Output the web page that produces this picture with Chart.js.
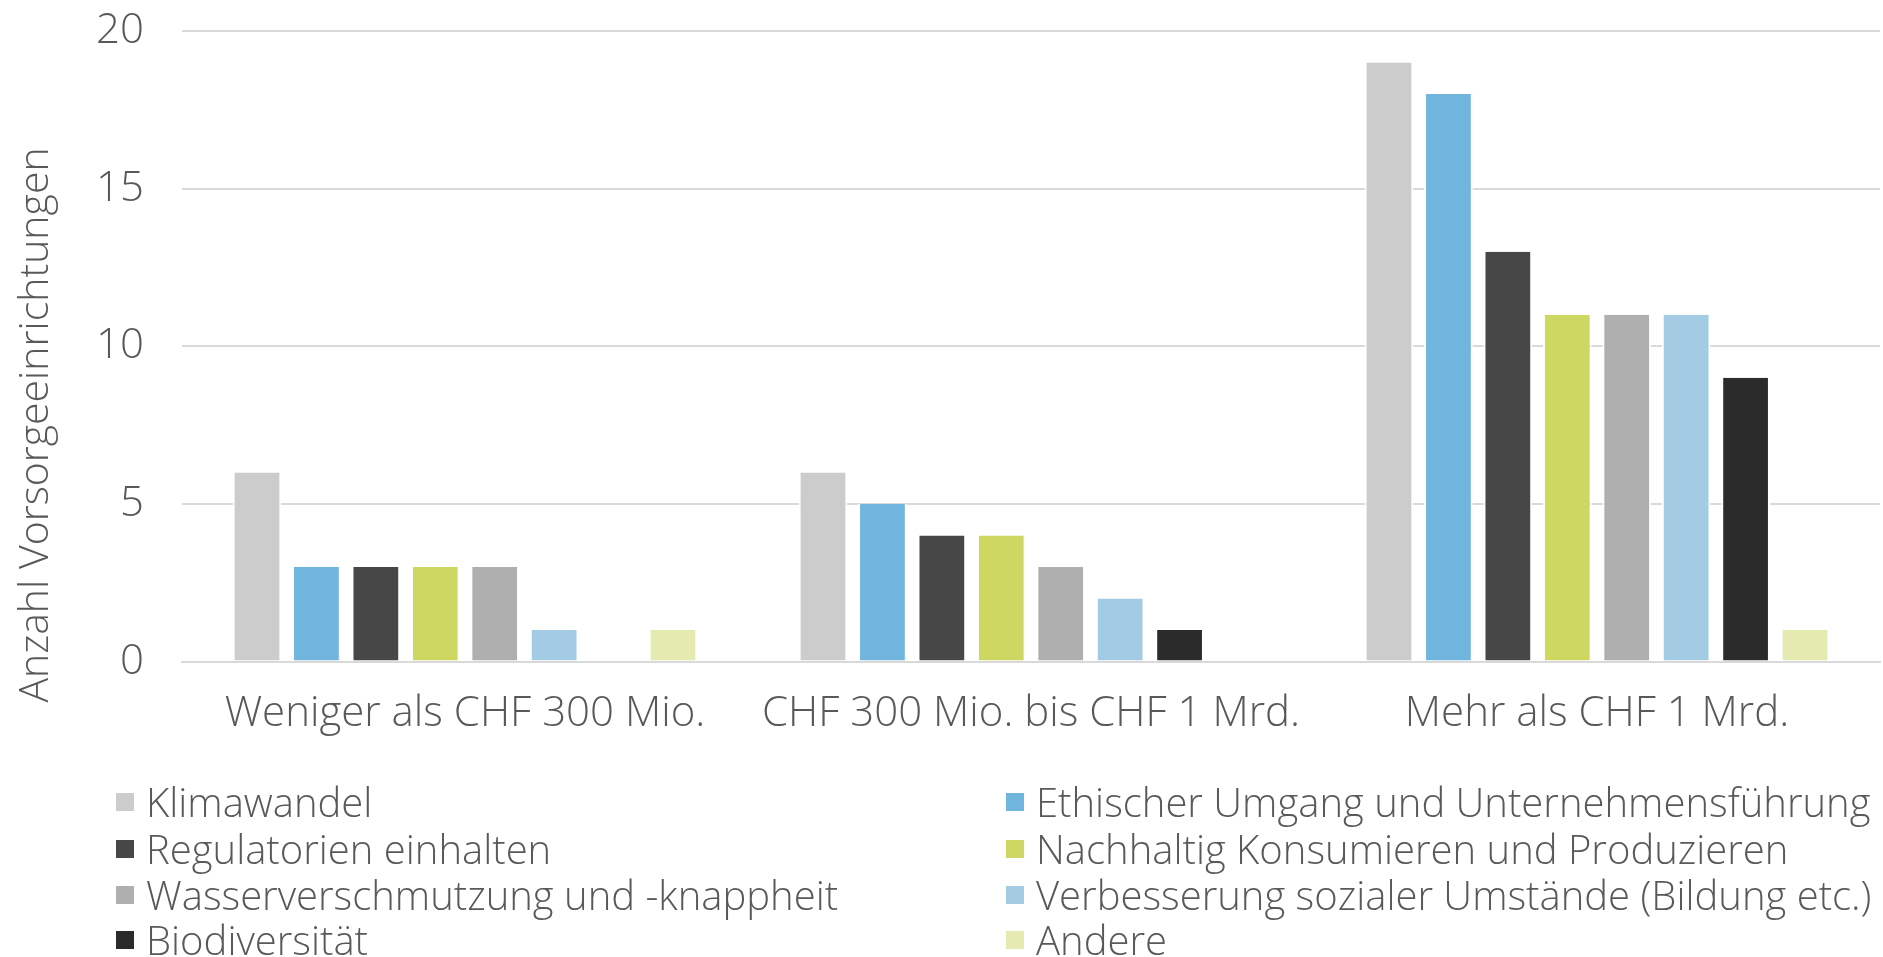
<!DOCTYPE html>
<html lang="de">
<head>
<meta charset="utf-8">
<title>Themen nach Vermögensgrösse</title>
<script src="https://cdn.jsdelivr.net/npm/chart.js@4.4.1/dist/chart.umd.min.js"></script>
<style>
    html, body { margin: 0; padding: 0; background: #fff; }
    #wrap { position: relative; width: 1883px; height: 957px; overflow: hidden;
        font-family: "Open Sans", "Noto Sans", sans-serif; font-weight: 300; color: #595959; }
    #themenChart { position: absolute; left: 0; top: 0; }
    #yTitel { position: absolute; left: 32px; top: 425px; white-space: nowrap; font-size: 41px; line-height: 1;
        transform: translate(-50%, -50%) rotate(-90deg); }
    #legende { position: absolute; left: 0; top: 0; width: 1883px; height: 957px; pointer-events: none; font-size: 40px; }
    .leg-item { position: absolute; white-space: nowrap; line-height: 44px; height: 44px; }
    .leg-box { position: absolute; left: 0; top: 13px; width: 18px; height: 18px; }
    .leg-text { position: absolute; left: 30px; top: 0; }
</style>
</head>
<body>
<div id="wrap">
    <canvas id="themenChart" width="1883" height="957"></canvas>
    <div id="yTitel"></div>
    <div id="legende"></div>
</div>
<script>
// Kategorien (Vermögen der Vorsorgeeinrichtung)
const kategorien = ['Weniger als CHF 300 Mio.', 'CHF 300 Mio. bis CHF 1 Mrd.', 'Mehr als CHF 1 Mrd.'];

// Themen (Serien)
const themen = [
    'Klimawandel',
    'Ethischer Umgang und Unternehmensführung',
    'Regulatorien einhalten',
    'Nachhaltig Konsumieren und Produzieren',
    'Wasserverschmutzung und -knappheit',
    'Verbesserung sozialer Umstände (Bildung etc.)',
    'Biodiversität',
    'Andere'
];

// Werte pro Thema, in der Reihenfolge der Kategorien
const klimawandel = [6, 6, 19];
const ethischerUmgang = [3, 5, 18];
const regulatorien = [3, 4, 13];
const nachhaltigKonsum = [3, 4, 11];
const wasser = [3, 3, 11];
const sozialeUmstaende = [1, 2, 11];
const biodiversitaet = [0, 1, 9];
const andere = [1, 0, 1];

const werte = [klimawandel, ethischerUmgang, regulatorien, nachhaltigKonsum, wasser, sozialeUmstaende, biodiversitaet, andere];

const farben = ['#cccccc', '#6fb5de', '#474747', '#ced762', '#afafaf', '#a3cbe3', '#2b2b2b', '#e5ebb0'];

// Achsenbeschriftungen
const yTitel = 'Anzahl Vorsorgeeinrichtungen';
const yTicks = [0, 5, 10, 15, 20];

const schrift = '"Open Sans", "Noto Sans", sans-serif';
const textFarbe = '#595959';

document.addEventListener('DOMContentLoaded', () => {
    const ctx = document.getElementById('themenChart').getContext('2d');

    const datasets = themen.map((thema, i) => ({
        label: thema,
        data: werte[i],
        backgroundColor: farben[i],
        borderColor: '#ffffff',
        borderWidth: { top: 0, bottom: 0, left: 2, right: 2 },
        borderSkipped: false,
        categoryPercentage: 0.84,
        barPercentage: 0.82
    }));

    new Chart(ctx, {
        type: 'bar',
        data: { labels: kategorien, datasets: datasets },
        options: {
            responsive: false,
            animation: false,
            layout: { padding: { top: 31, right: 3, bottom: 191, left: 62 } },
            plugins: {
                legend: { display: false },
                tooltip: { enabled: false }
            },
            scales: {
                x: {
                    grid: { display: false, drawTicks: false },
                    border: { display: true, color: '#d9d9d9', width: 2 },
                    ticks: {
                        color: textFarbe,
                        padding: 27,
                        font: { family: schrift, size: 42, weight: '300' }
                    }
                },
                y: {
                    min: 0,
                    max: 20,
                    afterBuildTicks: axis => { axis.ticks = yTicks.map(v => ({ value: v })); },
                    afterFit: axis => { axis.width = 120; },
                    grid: { color: '#d9d9d9', lineWidth: 2, drawTicks: true, tickLength: 38, tickColor: 'rgba(0,0,0,0)' },
                    border: { display: false },
                    ticks: {
                        color: textFarbe,
                        padding: 0,
                        font: { family: schrift, size: 42, weight: '300' }
                    }
                }
            }
        }
    });

    document.getElementById('yTitel').textContent = yTitel;

    // Legende in zwei Spalten (wie im Original)
    const legende = document.getElementById('legende');
    const spalten = [116, 1006];
    const zeilen = [780, 827, 873, 918];
    themen.forEach((thema, i) => {
        const item = document.createElement('div');
        item.className = 'leg-item';
        item.style.left = spalten[i % 2] + 'px';
        item.style.top = zeilen[Math.floor(i / 2)] + 'px';
        const box = document.createElement('span');
        box.className = 'leg-box';
        box.style.background = farben[i];
        const txt = document.createElement('span');
        txt.className = 'leg-text';
        txt.textContent = thema;
        item.appendChild(box);
        item.appendChild(txt);
        legende.appendChild(item);
    });
});
</script>
</body>
</html>
